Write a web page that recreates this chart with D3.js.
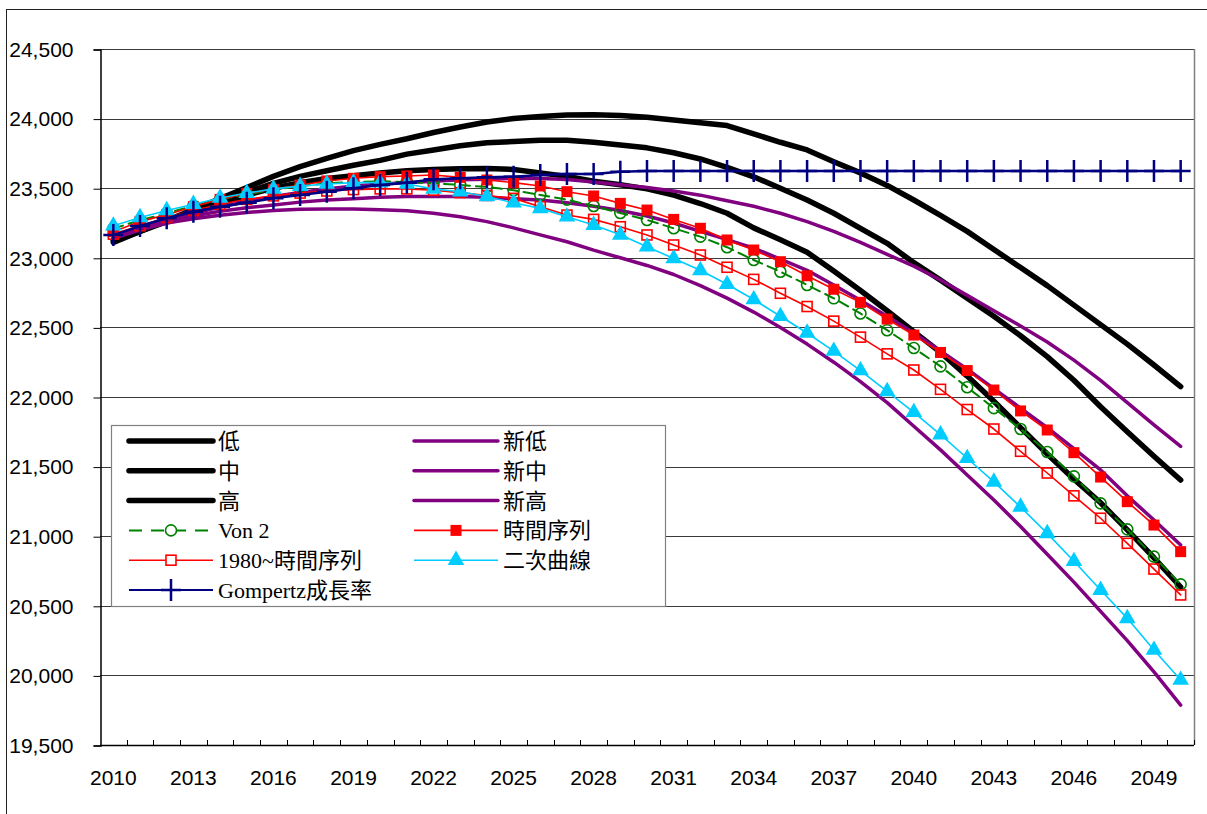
<!DOCTYPE html>
<html>
<head>
<meta charset="utf-8">
<script src="https://cdn.jsdelivr.net/npm/d3@7"></script>
<style>
  html, body { margin: 0; padding: 0; background: #fff; }
  svg { display: block; }
  .tick-label { font-family: "Liberation Sans", Arial, sans-serif; font-size: 21px; fill: #000; }
  .legend-text { font-family: "Liberation Serif", "Noto Sans CJK TC", serif; font-size: 22px; fill: #000; }
</style>
</head>
<body>
<script>
// Years on the category axis (2010..2050), labelled every 3rd year.
const years = d3.range(2010, 2051);

// Series values.
const low = [23130, 23200, 23270, 23330, 23390, 23450, 23500, 23540, 23570, 23590, 23610, 23625, 23635, 23640, 23642, 23635, 23610, 23585, 23550, 23525, 23495, 23450, 23390, 23320, 23215, 23130, 23040, 22905, 22765, 22620, 22470, 22320, 22150, 21970, 21780, 21590, 21410, 21240, 21045, 20845, 20635];
const mid = [23120, 23190, 23260, 23330, 23400, 23470, 23535, 23585, 23625, 23665, 23700, 23745, 23775, 23805, 23827, 23835, 23845, 23845, 23830, 23810, 23790, 23755, 23710, 23650, 23582, 23500, 23415, 23320, 23212, 23104, 22965, 22840, 22710, 22580, 22440, 22290, 22120, 21930, 21750, 21575, 21404];
const high = [23110, 23190, 23270, 23345, 23425, 23505, 23585, 23655, 23715, 23770, 23815, 23855, 23900, 23940, 23975, 24000, 24015, 24026, 24028, 24022, 24010, 23990, 23970, 23950, 23890, 23830, 23775, 23690, 23610, 23520, 23415, 23305, 23190, 23060, 22930, 22800, 22660, 22520, 22380, 22230, 22075];
const newLow = [23150, 23210, 23250, 23280, 23305, 23325, 23340, 23348, 23350, 23350, 23345, 23338, 23320, 23295, 23260, 23215, 23165, 23115, 23055, 23000, 22945, 22880, 22800, 22710, 22610, 22500, 22380, 22250, 22110, 21960, 21790, 21620, 21440, 21260, 21070, 20870, 20670, 20460, 20250, 20025, 19787];
const newMid = [23140, 23200, 23250, 23300, 23335, 23360, 23380, 23400, 23415, 23425, 23435, 23440, 23440, 23440, 23435, 23425, 23415, 23395, 23370, 23340, 23300, 23250, 23190, 23130, 23070, 22990, 22910, 22805, 22695, 22580, 22460, 22330, 22200, 22060, 21920, 21780, 21630, 21476, 21290, 21116, 20937];
const newHigh = [23150, 23210, 23270, 23320, 23365, 23405, 23440, 23470, 23495, 23515, 23530, 23540, 23550, 23560, 23565, 23570, 23570, 23562, 23545, 23525, 23505, 23480, 23450, 23410, 23370, 23320, 23260, 23190, 23110, 23025, 22940, 22840, 22730, 22620, 22510, 22395, 22265, 22120, 21960, 21800, 21645];
const von2 = [23210, 23270, 23320, 23375, 23420, 23455, 23490, 23515, 23535, 23545, 23550, 23545, 23535, 23523, 23509, 23485, 23451, 23418, 23372, 23322, 23272, 23212, 23152, 23076, 22984, 22900, 22805, 22709, 22600, 22480, 22352, 22220, 22070, 21920, 21770, 21605, 21430, 21236, 21049, 20853, 20654];
const timeSeries = [23188, 23260, 23310, 23367, 23420, 23463, 23492, 23523, 23552, 23571, 23583, 23588, 23595, 23578, 23559, 23540, 23516, 23475, 23444, 23391, 23343, 23276, 23212, 23128, 23056, 22972, 22871, 22774, 22680, 22560, 22445, 22320, 22190, 22050, 21900, 21763, 21600, 21425, 21248, 21080, 20889];
const ts1980 = [23170, 23230, 23290, 23340, 23385, 23420, 23445, 23465, 23480, 23490, 23495, 23495, 23485, 23468, 23448, 23427, 23367, 23307, 23276, 23223, 23164, 23092, 23020, 22932, 22845, 22745, 22650, 22545, 22430, 22310, 22194, 22055, 21910, 21770, 21610, 21454, 21290, 21129, 20949, 20764, 20578];
const quadratic = [23230, 23290, 23340, 23385, 23430, 23465, 23495, 23515, 23530, 23540, 23540, 23530, 23495, 23475, 23440, 23395, 23355, 23295, 23235, 23165, 23080, 22995, 22910, 22810, 22700, 22580, 22460, 22330, 22190, 22040, 21890, 21730, 21560, 21390, 21210, 21020, 20820, 20613, 20410, 20182, 19967];
const gompertz = [23163, 23228, 23284, 23331, 23367, 23396, 23427, 23451, 23475, 23499, 23523, 23540, 23564, 23571, 23578, 23583, 23595, 23602, 23602, 23619, 23624, 23624, 23624, 23624, 23624, 23624, 23624, 23624, 23624, 23624, 23624, 23624, 23624, 23624, 23624, 23624, 23624, 23624, 23624, 23624, 23624];

const yTicks = d3.range(19500, 24501, 500);

// Series in Excel draw order.
const series = [
  { name: '低', values: low, color: '#000', width: 5.5 },
  { name: '中', values: mid, color: '#000', width: 5.5 },
  { name: '高', values: high, color: '#000', width: 5.5 },
  { name: '新低', values: newLow, color: '#800080', width: 3.5 },
  { name: '新中', values: newMid, color: '#800080', width: 3.5 },
  { name: '新高', values: newHigh, color: '#800080', width: 3.5 },
  { name: 'Von 2', values: von2, color: '#008000', width: 2, dash: '10,6', marker: 'circle' },
  { name: '時間序列', values: timeSeries, color: '#ff0000', width: 1.6, marker: 'square' },
  { name: '1980~時間序列', values: ts1980, color: '#ff0000', width: 1.6, marker: 'openSquare' },
  { name: '二次曲線', values: quadratic, color: '#00ccff', width: 1.6, marker: 'triangle' },
  { name: 'Gompertz成長率', values: gompertz, color: '#000080', width: 2.5, marker: 'plus' },
];
// legend: first six in two columns (old / new), then the rest row by row
const legendOrder = [0, 3, 1, 4, 2, 5, 6, 7, 8, 9, 10];

const W = 1207, H = 814;
const plot = { left: 100, right: 1194, top: 49, bottom: 745 };

const svg = d3.select('body').append('svg').attr('width', W).attr('height', H);

// chart area border
svg.append('rect')
  .attr('x', 6.5).attr('y', 9.5).attr('width', W + 20).attr('height', H + 20)
  .attr('fill', '#fff').attr('stroke', '#222').attr('stroke-width', 1);

const x = d3.scaleBand().domain(years).range([plot.left, plot.right]).padding(0);
const xc = (yr) => x(yr) + x.bandwidth() / 2;
const y = d3.scaleLinear().domain([19500, 24500]).range([plot.bottom, plot.top]);

// gridlines
svg.append('g').selectAll('line')
  .data(yTicks.filter((v) => v > 19500))
  .join('line')
  .attr('x1', plot.left).attr('x2', plot.right)
  .attr('y1', (d) => Math.round(y(d)) + 0.5).attr('y2', (d) => Math.round(y(d)) + 0.5)
  .attr('stroke', '#3a3a3a').attr('stroke-width', 1);

// right border of the plot area
svg.append('line')
  .attr('x1', plot.right + 0.5).attr('x2', plot.right + 0.5)
  .attr('y1', plot.top).attr('y2', plot.bottom)
  .attr('stroke', '#808080').attr('stroke-width', 1.5);

// y axis
const yAxis = svg.append('g').attr('transform', `translate(${plot.left + 0.5},0.5)`)
  .call(d3.axisLeft(y).tickValues(yTicks).tickSize(7).tickPadding(20).tickFormat(d3.format(',')));
yAxis.select('.domain').attr('stroke', '#000').attr('stroke-width', 1.5);
yAxis.selectAll('.tick line').attr('stroke', '#000');
yAxis.selectAll('.tick text').attr('class', 'tick-label').attr('font-size', null).attr('font-family', null);

// x axis: ticks between categories, pointing up into the plot
const xg = svg.append('g');
xg.append('line')
  .attr('x1', plot.left).attr('x2', plot.right)
  .attr('y1', plot.bottom + 0.5).attr('y2', plot.bottom + 0.5)
  .attr('stroke', '#000').attr('stroke-width', 1.5);
xg.selectAll('line.xt')
  .data(years.slice(1).concat([null]))
  .join('line')
  .attr('class', 'xt')
  .attr('x1', (d) => Math.round(d == null ? plot.right : x(d)) + 0.5)
  .attr('x2', (d) => Math.round(d == null ? plot.right : x(d)) + 0.5)
  .attr('y1', plot.bottom - 5).attr('y2', plot.bottom)
  .attr('stroke', '#000');
xg.selectAll('text')
  .data(years.filter((yr) => (yr - 2010) % 3 === 0))
  .join('text')
  .attr('class', 'tick-label')
  .attr('x', (d) => xc(d))
  .attr('y', 785)
  .attr('text-anchor', 'middle')
  .text((d) => d);

function drawMarker(sel, type, color) {
  if (type === 'circle') {
    sel.append('circle').attr('r', 5.5).attr('fill', 'none').attr('stroke', color).attr('stroke-width', 1.6);
  } else if (type === 'square') {
    sel.append('rect').attr('x', -5.5).attr('y', -5.5).attr('width', 11).attr('height', 11).attr('fill', color);
  } else if (type === 'openSquare') {
    sel.append('rect').attr('x', -5).attr('y', -5).attr('width', 10).attr('height', 10)
      .attr('fill', 'none').attr('stroke', color).attr('stroke-width', 1.6);
  } else if (type === 'triangle') {
    sel.append('path').attr('d', d3.symbol(d3.symbolTriangle, 120)()).attr('fill', color);
  } else if (type === 'plus') {
    sel.append('path').attr('d', 'M-10,0H10M0,-11V11').attr('stroke', color).attr('stroke-width', 2.5);
  }
}

const line = d3.line().x((d, i) => xc(years[i])).y((d) => y(d));

const plotG = svg.append('g');
series.forEach((s) => {
  plotG.append('path')
    .datum(s.values)
    .attr('d', line)
    .attr('fill', 'none')
    .attr('stroke', s.color)
    .attr('stroke-width', s.width)
    .attr('stroke-linejoin', 'round')
    .attr('stroke-linecap', 'round')
    .attr('stroke-dasharray', s.dash || null);
  if (s.marker) {
    plotG.append('g').selectAll('g')
      .data(s.values)
      .join('g')
      .attr('transform', (d, i) => `translate(${xc(years[i])},${y(d)})`)
      .each(function () { drawMarker(d3.select(this), s.marker, s.color); });
  }
});

// legend
const lg = svg.append('g');
lg.append('rect')
  .attr('x', 111.5).attr('y', 425.5).attr('width', 554).attr('height', 181)
  .attr('fill', '#fff').attr('stroke', '#808080').attr('stroke-width', 1.2);
legendOrder.forEach((si, k) => {
  const s = series[si];
  const col = k < 6 ? k % 2 : (k - 6) % 2;
  const row = k < 6 ? Math.floor(k / 2) : 3 + Math.floor((k - 6) / 2);
  const lx = col === 0 ? 129 : 414;
  const ly = 441 + row * 29.8;
  const it = lg.append('g').attr('transform', `translate(${lx},${ly})`);
  it.append('line')
    .attr('x1', 0).attr('x2', 84).attr('y1', 0).attr('y2', 0)
    .attr('stroke', s.color)
    .attr('stroke-width', s.marker ? Math.min(s.width, 2) : s.width)
    .attr('stroke-linecap', s.marker ? 'butt' : 'round')
    .attr('stroke-dasharray', s.dash ? '13,9' : null);
  if (s.marker) {
    const m = it.append('g').attr('transform', 'translate(42,0)');
    if (s.marker === 'circle') m.append('circle').attr('r', 6).attr('fill', '#fff');
    if (s.marker === 'openSquare') m.append('rect').attr('x', -5).attr('y', -5).attr('width', 10).attr('height', 10).attr('fill', '#fff');
    drawMarker(m, s.marker, s.color);
  }
  it.append('text')
    .attr('class', 'legend-text')
    .attr('x', 89).attr('y', 0)
    .attr('dy', '0.36em')
    .text(s.name);
});
</script>
</body>
</html>
